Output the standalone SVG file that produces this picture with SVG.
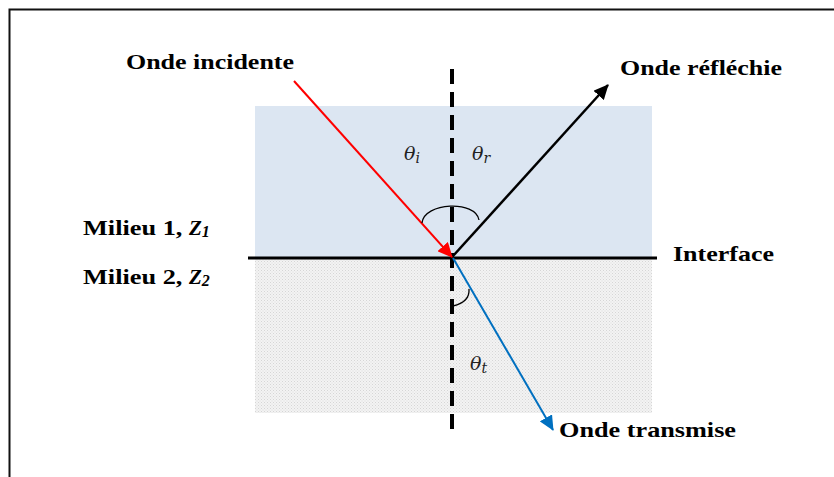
<svg xmlns="http://www.w3.org/2000/svg" width="834" height="477" viewBox="0 0 834 477">
<style>
.lbl{font-family:"Liberation Serif","Times New Roman",serif;font-weight:bold;font-size:21px;fill:#000}
.ang{font-family:"DejaVu Serif","Liberation Serif",serif;font-style:italic;font-size:19px;fill:#222}
.sub{font-family:"DejaVu Serif","Liberation Serif",serif;font-style:italic;font-size:14px;fill:#222}
.arc{fill:none;stroke:#000;stroke-width:1.3}
</style>
<defs>
<pattern id="dots" width="3" height="3" patternUnits="userSpaceOnUse">
<rect width="3" height="3" fill="#f3f3f3"/>
<rect x="0" y="0" width="1" height="1" fill="#d6d6d6"/>
<rect x="1.5" y="1.5" width="1" height="1" fill="#dedede"/>
</pattern>
<marker id="ahRed" markerUnits="userSpaceOnUse" markerWidth="16" markerHeight="14" refX="14" refY="7" orient="auto">
<path d="M0,0 L15,7 L0,14 Z" fill="#ff0000"/>
</marker>
<marker id="ahBlack" markerUnits="userSpaceOnUse" markerWidth="16" markerHeight="14" refX="14" refY="7" orient="auto">
<path d="M0,0 L15,7 L0,14 Z" fill="#000"/>
</marker>
<marker id="ahBlue" markerUnits="userSpaceOnUse" markerWidth="16" markerHeight="14" refX="14" refY="7" orient="auto">
<path d="M0,0 L15,7 L0,14 Z" fill="#0070c0"/>
</marker>
</defs>
<rect x="0" y="0" width="834" height="477" fill="#fff"/>
<rect x="9.5" y="9.5" width="834" height="480" fill="none" stroke="#111" stroke-width="2"/>

<g id="milieu1">
<rect x="255" y="106" width="397" height="151" fill="#dce6f2"/>
</g>
<g id="milieu2">
<rect x="255" y="258" width="397" height="155" fill="url(#dots)"/>
</g>

<g id="connectors">
<line x1="452" y1="69" x2="452" y2="430" stroke="#000" stroke-width="4" stroke-dasharray="15 8"/>
<line x1="248" y1="258" x2="657" y2="258" stroke="#000" stroke-width="3"/>
<line x1="294" y1="81" x2="452" y2="257" stroke="#ff0000" stroke-width="2" marker-end="url(#ahRed)"/>
<line x1="453" y1="256" x2="608" y2="85" stroke="#000" stroke-width="2.5" marker-end="url(#ahBlack)"/>
<line x1="453" y1="258" x2="553" y2="430" stroke="#0070c0" stroke-width="2" marker-end="url(#ahBlue)"/>
<path class="arc" d="M422,223 C424,202 476,200 479,220"/>
<path class="arc" d="M453,306 Q470,302 469,289"/>
</g>

<g id="label-incidente"><text class="lbl" x="126" y="69" textLength="168" lengthAdjust="spacingAndGlyphs">Onde incidente</text></g>
<g id="label-reflechie"><text class="lbl" x="620" y="75" textLength="162" lengthAdjust="spacingAndGlyphs">Onde réfléchie</text></g>
<g id="label-interface"><text class="lbl" x="673" y="261" textLength="101" lengthAdjust="spacingAndGlyphs">Interface</text></g>
<g id="label-transmise"><text class="lbl" x="559" y="437" textLength="177" lengthAdjust="spacingAndGlyphs">Onde transmise</text></g>
<g id="label-milieu1"><text class="lbl" x="83" y="235"><tspan textLength="106" lengthAdjust="spacingAndGlyphs">Milieu 1, </tspan><tspan font-style="italic">Z</tspan><tspan font-style="italic" font-size="16" dy="2">1</tspan></text></g>
<g id="label-milieu2"><text class="lbl" x="83" y="284"><tspan textLength="106" lengthAdjust="spacingAndGlyphs">Milieu 2, </tspan><tspan font-style="italic">Z</tspan><tspan font-style="italic" font-size="16" dy="2">2</tspan></text></g>

<g id="theta-i"><text class="ang" x="404" y="160">θ<tspan class="sub" dy="3">i</tspan></text></g>
<g id="theta-r"><text class="ang" x="472" y="160">θ<tspan class="sub" dy="3">r</tspan></text></g>
<g id="theta-t"><text class="ang" x="470" y="370">θ<tspan class="sub" dy="3">t</tspan></text></g>
</svg>
